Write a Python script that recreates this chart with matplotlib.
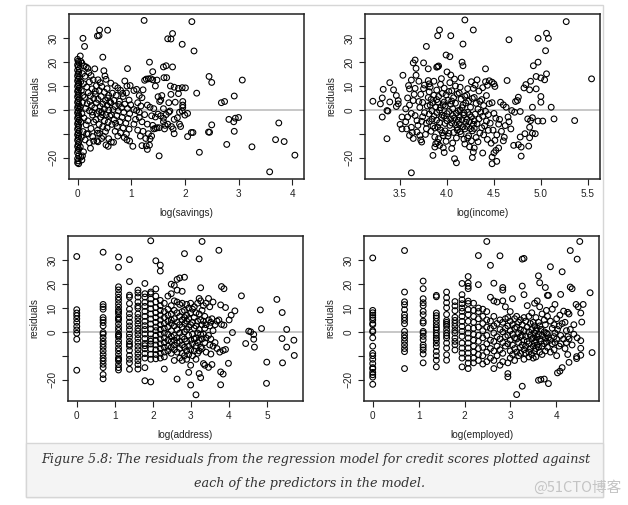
import numpy as np
import matplotlib.pyplot as plt
from matplotlib.patches import Rectangle

# residuals vs log(savings) as (x, residual)
savings = np.array([
    (0.00, 21.2), (0.01, 20.4), (0.02, 19.8), (0.00, 18.9), (0.01, 18.1), (0.03, 17.2), (0.00, 16.6),
    (0.02, 15.8), (0.01, 15.1), (0.00, 14.2), (0.03, 13.6), (0.01, 12.9), (0.00, 12.1), (0.02, 11.3),
    (0.01, 10.6), (0.00, 9.8), (0.03, 9.1), (0.01, 8.3), (0.00, 7.7), (0.02, 6.9), (0.01, 6.2),
    (0.00, 5.4), (0.03, 4.7), (0.01, 3.9), (0.00, 3.1), (0.02, 2.4), (0.01, 1.6), (0.00, 0.9),
    (0.03, 0.2), (0.01, -0.6), (0.00, -1.3), (0.02, -2.1), (0.01, -2.8), (0.00, -3.6), (0.03, -4.3),
    (0.01, -5.1), (0.00, -5.9), (0.02, -6.6), (0.01, -7.4), (0.00, -8.2), (0.03, -8.9), (0.01, -9.7),
    (0.00, -10.5), (0.02, -11.2), (0.01, -12.0), (0.00, -12.8), (0.02, -13.7), (0.01, -14.6),
    (0.00, -15.4), (0.02, -16.3), (0.01, -17.1), (0.00, -18.0), (0.02, -19.2), (0.00, -20.5),
    (0.01, -21.4), (0.00, -22.2), (0.02, -22.6),
    (0.05, 22.6), (0.06, 20.3), (0.08, 19.6), (0.10, 30.0), (0.13, 26.6), (0.06, -19.8), (0.08, -21.0),
    (0.09, -19.3), (0.11, -17.6), (0.05, -15.5),
    (0.12, 18.4), (0.16, 18.0), (0.19, 17.4), (0.21, 15.6), (0.09, 15.2), (0.14, 14.1), (0.25, 14.4),
    (0.29, 12.6), (0.22, 11.7), (0.11, 11.0), (0.17, 9.6), (0.27, 8.8), (0.07, 8.1), (0.20, 7.2),
    (0.24, 5.9), (0.13, 5.2), (0.30, 4.8), (0.09, 3.1), (0.18, 2.6), (0.26, 1.8), (0.15, 0.6),
    (0.22, -0.4), (0.08, -1.6), (0.28, -2.2), (0.12, -3.4), (0.19, -4.6), (0.30, -5.1), (0.16, -6.3),
    (0.25, -7.8), (0.10, -9.1), (0.17, -10.0), (0.20, -10.1), (0.28, -11.2), (0.14, -12.6),
    (0.22, -13.8), (0.30, -13.1), (0.24, -16.1), (0.06, -5.0), (0.07, -11.5), (0.05, 1.2),
    (0.06, 11.8), (0.10, 6.0), (0.27, -0.9), (0.23, 3.5),
    (0.37, 31.0), (0.40, 31.2), (0.41, 33.5), (0.56, 33.4), (0.47, 22.1), (0.32, 17.2), (0.49, 16.4),
    (0.51, 14.2), (0.53, 12.8), (0.38, 12.6), (0.42, 11.4), (0.35, 10.1), (0.45, 9.8), (0.55, 8.9),
    (0.40, 8.1), (0.50, 7.4), (0.33, 6.6), (0.58, 6.1), (0.44, 5.6), (0.38, 4.4), (0.52, 3.9),
    (0.60, 3.4), (0.35, 2.9), (0.47, 2.5), (0.55, 1.9), (0.42, 1.4), (0.32, 0.9), (0.50, 0.4),
    (0.58, -0.1), (0.40, -0.6), (0.45, -1.1), (0.36, -1.6), (0.53, -2.1), (0.60, -2.6), (0.43, -3.1),
    (0.34, -4.1), (0.50, -4.6), (0.57, -5.2), (0.40, -6.1), (0.47, -7.0), (0.55, -7.6), (0.37, -8.6),
    (0.52, -9.1), (0.37, -9.8), (0.41, -9.9), (0.48, -11.1), (0.58, -12.1), (0.36, -13.0),
    (0.38, -13.4), (0.45, -12.0), (0.53, -14.7), (0.57, -15.3), (0.33, 7.8), (0.46, -2.0), (0.56, 5.0),
    (0.63, -13.5), (0.67, -13.6), (0.62, 11.2), (0.70, 10.1), (0.75, 9.2), (0.88, 12.1), (0.92, 10.0),
    (0.98, 10.2), (0.93, 17.3), (0.91, 7.1), (0.80, 8.2), (0.65, 7.0), (0.72, 6.1), (0.85, 5.6),
    (0.96, 4.1), (0.68, 4.0), (0.78, 3.6), (0.62, 3.0), (0.88, 2.4), (0.99, 2.1), (0.70, 1.4),
    (0.82, 1.0), (0.93, 0.6), (0.66, 0.1), (0.76, -0.4), (0.86, -1.1), (0.97, -1.6), (0.63, -2.1),
    (0.73, -2.4), (0.83, -3.1), (0.94, -3.6), (0.68, -4.1), (0.79, -5.0), (0.90, -5.6), (0.64, -6.1),
    (0.74, -7.0), (0.85, -7.6), (0.96, -8.1), (0.70, -9.0), (0.80, -9.6), (0.91, -10.1), (0.75, -11.0),
    (0.87, -11.6), (0.92, -12.6), (0.97, -13.1), (1.03, -15.3), (0.77, 2.3), (0.84, 6.9), (0.71, -5.6),
    (1.05, 8.1), (1.10, 8.6), (1.15, 6.0), (1.20, 5.1), (1.22, 8.4), (1.25, 12.4), (1.28, 12.9),
    (1.32, 13.0), (1.36, 13.1), (1.40, 12.6), (1.45, 10.0), (1.48, 12.5), (1.12, 3.0), (1.18, 1.6),
    (1.30, 2.0), (1.35, 1.1), (1.42, 0.5), (1.05, 0.1), (1.15, -1.0), (1.25, -2.0), (1.38, -2.5),
    (1.45, -3.0), (1.08, -4.0), (1.20, -5.0), (1.30, -6.0), (1.40, -6.5), (1.48, -7.5), (1.12, -8.5),
    (1.22, -9.0), (1.32, -10.0), (1.42, -8.0), (1.17, -11.0), (1.27, -12.0), (1.35, -12.2),
    (1.38, -11.0), (1.20, -15.0), (1.28, -15.1), (1.30, -16.6), (1.34, -14.8), (1.15, -3.2),
    (1.05, -6.0), (1.50, 5.5), (1.55, 4.1), (1.53, 3.5), (1.50, -1.8), (1.55, -2.5), (1.60, -3.5),
    (1.52, -7.5), (1.45, -7.8), (1.60, -5.0), (1.24, 37.5), (1.34, 20.0), (1.40, 16.0), (1.57, 6.0),
    (1.52, -19.3), (1.10, -0.3),
    (1.60, 18.0), (1.65, 18.5), (1.77, 18.0), (1.61, 13.5), (1.66, 13.5), (1.73, 10.0), (1.80, 9.5),
    (1.88, 9.0), (1.95, 9.3), (2.01, 9.2), (1.68, 29.8), (1.74, 29.7), (1.77, 32.0), (1.95, 27.5),
    (2.13, 37.0), (2.17, 24.7), (2.22, 7.0), (2.45, 14.0), (2.50, 11.5), (3.07, 12.5), (2.68, 3.0),
    (2.74, 3.5), (2.92, 5.8), (2.82, -4.0), (2.91, -5.0), (2.94, -3.5), (3.00, -3.2), (2.92, -9.0),
    (2.78, -14.5), (3.25, -15.5), (3.75, -5.5), (3.69, -12.5), (3.85, -13.3), (4.05, -19.0),
    (3.58, -26.0), (2.50, -6.3), (2.44, -9.3), (2.46, -9.4), (2.27, -17.8), (2.05, -11.2),
    (2.12, -9.5), (2.15, -9.5), (2.05, -1.5), (1.96, 3.5), (1.96, 2.0), (1.96, 1.0), (1.95, -0.5),
    (2.00, -2.2), (1.88, 6.8), (1.74, 6.5), (1.82, 3.2), (1.86, -3.3), (1.80, -4.0), (1.90, -6.0),
    (1.75, -7.0), (1.78, -8.0), (1.80, -10.0), (1.60, 0.5), (1.65, -2.0), (1.70, 3.0), (1.72, -0.5),
    (1.68, -6.0), (1.62, -8.0), (1.90, -1.0), (1.92, -7.0), (1.63, -6.5), (1.70, -1.0),
])

# residuals vs log(income)
income = np.array([
    (3.21, 3.6), (3.29, 2.5), (3.31, 5.0), (3.32, 8.6), (3.31, -3.0), (3.36, -0.3), (3.37, -0.5),
    (3.36, -12.1), (3.39, 11.4), (3.39, 3.3), (3.43, 8.4), (3.46, 6.0), (3.48, 3.9), (3.48, 2.5),
    (3.46, 1.4), (3.53, 14.5), (3.52, -3.0), (3.50, -6.1), (3.52, -8.0), (3.56, 0.4), (3.58, -3.0),
    (3.59, 10.2), (3.60, 8.8), (3.62, 12.5), (3.62, -7.3), (3.60, -10.7), (3.62, -26.4), (3.64, 19.7),
    (3.66, 20.9), (3.67, 17.4), (3.64, 3.9), (3.66, -2.4), (3.68, -9.3), (3.71, -10.7), (3.72, -12.6),
    (3.73, -13.5), (3.75, 19.7), (3.78, 26.6), (3.80, 17.2), (3.80, 12.3), (3.81, 10.9), (3.85, -19.1),
    (3.87, -15.6), (3.88, -14.2), (3.89, 17.9), (3.90, 18.1), (3.91, 18.4), (3.90, 31.1), (3.92, 33.5),
    (3.92, -14.9), (3.96, -15.9), (3.97, -17.9), (3.99, 23.0), (4.03, 22.3), (4.04, 31.1),
    (4.08, -20.5), (4.10, -22.2), (4.17, 27.6), (4.19, 37.7), (4.28, 33.5), (4.16, 20.0), (4.17, 18.5),
    (4.27, -20.0), (4.28, -17.7), (4.29, -16.0), (4.38, -18.1), (4.41, 17.2), (4.48, -19.8),
    (4.48, -22.6), (4.53, -21.6), (4.52, -17.0), (4.48, 11.6), (4.50, 10.9), (4.51, 9.8), (4.66, 29.4),
    (4.64, 12.3), (4.71, -14.9), (4.76, -14.6), (4.79, -15.6), (4.87, -15.2), (4.79, -19.4),
    (4.78, -11.4), (4.83, -10.0), (4.88, -11.7), (4.91, -9.8), (4.94, -10.0), (4.88, -7.3),
    (4.89, -4.5), (4.86, -3.8), (4.91, -3.3), (4.97, -4.7), (5.02, -4.7), (5.14, -3.8), (5.36, -4.5),
    (5.54, 13.0), (5.11, 1.1), (4.91, 1.1), (5.00, 5.6), (5.00, 3.2), (4.95, 8.8), (4.88, 8.4),
    (4.89, 12.0), (4.84, 10.6), (4.82, 9.2), (4.92, 18.5), (4.97, 20.0), (4.95, 14.0), (5.00, 13.4),
    (5.04, 12.6), (5.06, 15.1), (5.05, 24.8), (4.97, 30.0), (5.06, 32.1), (5.08, 30.0), (5.27, 37.0),
    (4.75, 3.9), (4.73, 3.5), (4.76, 5.3), (4.78, -0.7), (4.72, -1.0), (4.69, -0.3),
    (3.72, 6.5), (3.74, 3.1), (3.76, -1.2), (3.73, -4.8), (3.78, -7.9), (3.75, 8.9), (3.79, 1.6),
    (3.77, -10.3), (3.80, 5.2), (3.74, -2.9), (3.78, -5.6), (3.71, 1.0), (3.76, 10.4),
    (3.81, 7.6), (3.83, 4.4), (3.82, 2.0), (3.84, -0.4), (3.86, -2.7), (3.81, -4.9), (3.85, -6.8),
    (3.83, -9.0), (3.87, -11.4), (3.82, 9.6), (3.86, 6.1), (3.88, 1.2), (3.84, -3.9), (3.87, -7.6),
    (3.85, 3.0), (3.81, -1.8), (3.86, 12.0),
    (3.89, 8.3), (3.91, 5.6), (3.90, 3.2), (3.93, 0.9), (3.89, -1.1), (3.94, -3.2), (3.92, -5.4),
    (3.90, -7.2), (3.95, -9.6), (3.91, -12.1), (3.93, 10.7), (3.95, 6.9), (3.89, 4.3), (3.96, 2.1),
    (3.92, -0.2), (3.95, -2.2), (3.89, -4.3), (3.93, -8.4), (3.96, -10.8), (3.90, -13.6), (3.94, 13.1),
    (3.97, 9.1), (3.99, 6.3), (4.01, 4.0), (3.98, 1.6), (4.02, -0.7), (3.97, -2.6), (4.00, -4.6),
    (4.03, -6.5), (3.98, -8.8), (4.01, -11.0), (4.03, 11.4), (3.99, -13.2), (4.02, 7.7), (3.97, 3.3),
    (4.04, 2.4), (4.00, -1.6), (4.04, -3.8), (3.98, -5.7), (4.02, -9.8), (4.04, 14.6), (4.00, 15.9),
    (4.05, 8.0), (4.07, 5.1), (4.09, 2.8), (4.06, 0.5), (4.10, -1.4), (4.08, -3.4), (4.05, -5.5),
    (4.11, -7.4), (4.07, -9.5), (4.10, -11.8), (4.06, -13.9), (4.09, 10.0), (4.11, 6.6), (4.05, 3.7),
    (4.12, -0.3), (4.06, -2.4), (4.09, -6.3), (4.12, -4.4), (4.08, 12.9), (4.11, -8.5), (4.05, -16.2),
    (4.13, 7.1), (4.15, 4.5), (4.17, 2.0), (4.14, -0.2), (4.18, -2.2), (4.16, -4.1), (4.13, -6.0),
    (4.19, -8.0), (4.15, -10.1), (4.18, -12.3), (4.14, 9.5), (4.19, 5.7), (4.16, 0.9), (4.13, -3.1),
    (4.20, -5.2), (4.17, -7.1), (4.14, -9.1), (4.19, -14.3), (4.15, 13.4), (4.18, -1.2), (4.20, 2.9),
    (4.21, 6.2), (4.23, 3.6), (4.25, 1.1), (4.22, -1.0), (4.26, -3.0), (4.24, -4.9), (4.21, -6.9),
    (4.27, -8.8), (4.23, -10.9), (4.26, -13.0), (4.22, 8.9), (4.27, 4.8), (4.24, -2.0), (4.21, -4.0),
    (4.28, -6.1), (4.25, -7.9), (4.22, -11.8), (4.26, 11.8), (4.28, 9.0), (4.24, -15.5),
    (4.29, 5.2), (4.31, 2.7), (4.33, 0.3), (4.30, -1.8), (4.34, -3.8), (4.32, -5.8), (4.29, -7.8),
    (4.35, -9.7), (4.31, -11.6), (4.34, 7.9), (4.30, 10.4), (4.33, -13.4), (4.35, 3.6), (4.36, -1.0),
    (4.32, 12.6), (4.29, -4.6),
    (4.37, 4.3), (4.39, 1.8), (4.41, -0.6), (4.38, -2.7), (4.42, -4.7), (4.40, -6.7), (4.44, -8.6),
    (4.39, -10.5), (4.43, -12.4), (4.42, 6.0), (4.45, 2.6), (4.38, 9.3), (4.44, -2.0), (4.46, -5.6),
    (4.37, -7.5), (4.41, 11.8), (4.45, 12.2), (4.43, 10.3),
    (4.48, 3.0), (4.50, -1.5), (4.52, -3.5), (4.55, -6.0), (4.57, 3.2), (4.60, 2.1), (4.63, 1.1),
    (4.49, -8.5), (4.53, -10.5), (4.51, -12.8), (4.56, -4.0), (4.58, -9.0), (4.62, -6.6),
    (4.65, -3.0), (4.47, -14.0), (4.55, -16.0), (4.50, -18.0), (4.61, -11.5), (4.68, -8.0),
    (4.66, -5.0), (4.60, -13.0),
    (3.56, -5.0), (3.58, 5.0), (3.60, 2.0), (3.62, -1.5), (3.65, 6.5), (3.68, -4.5), (3.70, 3.5),
    (3.63, -9.5), (3.66, 9.0), (3.69, -6.5), (3.57, -8.0), (3.64, -12.0), (3.70, 12.0), (3.67, 14.5),
])

# residuals vs address (years at address), grouped by value
address_resid = {
    1: [31.6, 9.3, 7.9, 6.8, 5.5, 4.0, 2.3, 0.8, -0.6, -3.1, -16.1],
    2: [33.4, 11.5, 10.5, 9.5, 6.0, 5.0, 3.9, 2.5, -0.3, -1.0, -2.5, -4.0, -5.2, -6.5, -8.0, -9.5,
        -11.0, -12.2, -13.6, -15.0, -17.9, -19.7],
    3: [31.4, 27.1, 18.9, 17.6, 16.0, 14.5, 13.3, 11.8, 10.4, 9.1, 7.6, 6.1, 4.9, 3.3, 1.8, 0.6, -0.9,
        -2.2, -3.8, -5.1, -6.7, -7.9, -9.4, -10.9, -12.1, -13.7, -15.0, -16.0, -1.5, 5.5, -11.5, 8.5],
    4: [30.3, 21.1, 15.4, 14.6, 11.9, 9.5, 7.6, 6.0, 4.1, 2.5, -0.9, -2.3, -4.0, -6.0, -7.8, -9.9,
        -11.5, -13.0, -15.7, 1.0, -5.2],
    5: [17.5, 16.3, 14.6, 12.5, 10.8, 9.9, 7.5, 6.0, 4.6, 3.2, 1.5, 0.3, -1.2, -2.8, -4.4, -6.0, -7.5,
        -9.1, -10.6, -12.1, -13.7, -15.6],
    6: [20.3, 16.0, 14.6, 12.4, 10.7, 8.6, 6.5, 4.4, 2.6, 1.0, -0.9, -2.8, -4.9, -7.1, -9.1, -11.0,
        -15.0, -20.5, -5.8],
    7: [38.2, 16.7, 16.0, 13.8, 11.8, 9.7, 7.5, 5.4, 3.3, 1.2, -0.9, -3.0, -5.1, -7.2, -9.4, -11.5,
        -21.0, -3.9],
    8: [29.8, 18.0, 15.0, 12.5, 10.2, 8.0, 6.0, 4.0, 2.0, 0.5, -1.5, -3.5, -5.5, -7.5, -9.5, -11.3],
    9: [28.0, 25.5, 13.2, 11.0, 9.0, 7.0, 5.0, 3.0, 1.0, -1.0, -3.0, -5.0, -7.0, -9.0, -11.0],
    10: [12.0, 8.5, 6.0, 3.5, 1.5, -0.5, -2.5, -4.5, -6.5, -8.5, -10.5, -15.6],
    11: [15.0, 9.5, 7.0, 4.5, 2.0, -1.0, -3.5, -6.0, -8.0],
    12: [20.0, 16.0, 11.0, 7.5, 5.0, 3.5, 0.5, -2.0, -4.0, -6.5, -9.0],
    13: [19.5, 13.0, 9.0, 5.5, 2.5, -1.5, -3.5, -5.5, -7.5, -12.0],
    14: [22.0, 17.5, 12.5, 8.0, 4.0, 1.0, -2.5, -4.5, -8.5, -19.8],
    15: [22.6, 11.5, 6.5, 3.0, -0.5, -4.0, -7.0, -11.0],
    16: [17.0, 12.0, 8.5, 5.0, 2.0, -2.0, -5.5, -9.0, -12.0],
    17: [32.8, 22.9, 9.0, 6.0, 3.5, 0.0, -3.0, -6.5, -10.0],
    18: [11.5, 7.0, 4.5, 1.0, -4.0, -8.0, -11.5],
    19: [10.0, 5.5, 2.0, -1.5, -6.0, -9.5, -17.0],
    20: [12.0, 8.0, 3.0, -3.5, -7.5, -14.0, -22.3],
    21: [9.5, 4.0, -1.0, -5.0, -10.0],
    22: [10.5, 6.0, 1.5, -3.0, -8.0],
    23: [8.0, 2.5, -2.5, -6.0, -11.5, -26.4],
    24: [12.0, 4.5, -0.5, -4.5, -9.0],
    25: [30.6, 14.0, 7.5, 1.0, -3.5, -8.0, -17.5],
    26: [18.5, 13.0, 5.0, -1.0, -6.5, -19.2],
    27: [37.9, 9.0, 3.0, -3.0, -7.0],
    28: [11.0, 4.5, -1.0, -13.3],
    29: [6.5, 1.5, -4.5, -14.0],
    30: [12.0, 3.0, -2.5, -8.5],
    32: [14.0, 5.0, -1.5, -14.9],
    33: [10.5, 2.5, -5.5],
    34: [4.0, -3.0, -9.3],
    35: [5.5, -13.7],
    36: [12.5, 0.5, -6.0],
    38: [3.0, -4.5],
    40: [4.5, -7.0],
    42: [34.2, 5.0],
    43: [-8.5],
    44: [11.3, -16.8, -22.2],
    45: [19.0, 3.1],
    47: [-7.8, -17.7],
    48: [18.1, 2.8],
    50: [10.2, -7.4],
    52: [-3.5],
    54: [-13.2],
    55: [5.0],
    58: [7.0],
    60: [-0.3],
    64: [8.8],
    76: [15.1],
    85: [-4.9],
    92: [0.3],
    97: [0.0],
    105: [-1.1, -3.1],
    107: [-6.4],
    125: [9.2],
    129: [1.4],
    147: [-21.6],
    148: [-12.7],
    193: [13.6],
    221: [-2.8],
    222: [8.1],
    224: [-13.0],
    250: [1.0, -6.4],
    302: [-3.5],
    305: [-9.9],
}

# residuals vs employed (years employed), grouped by value
employed_resid = {
    1: [31.0, 9.0, 8.0, 7.0, 6.0, 5.0, 3.5, 3.0, 0.5, 0.0, -2.5, -6.0, -9.0, -10.0, -11.5, -13.3,
        -15.0, -15.5, -17.0, -18.0, -19.0, -22.0],
    2: [34.1, 16.7, 12.6, 11.4, 9.3, 7.2, 4.8, 3.4, 0.2, -1.3, -2.6, -4.0, -5.5, -8.3, -15.4, 6.0, -7.0],
    3: [21.3, 18.1, 13.9, 12.2, 11.0, 8.6, 7.2, 3.7, 0.2, -0.5, -1.9, -3.3, -5.5, -7.6, -9.3, -13.0,
        4.5, -6.5],
    4: [15.3, 14.7, 7.9, 6.8, 5.8, 4.4, 3.0, 0.9, -0.5, -2.6, -3.3, -4.7, -6.1, -8.2, -10.0, -11.9,
        -14.7, 1.8, -1.5],
    5: [16.7, 14.3, 12.2, 10.1, 7.3, 4.8, 4.0, 2.3, 0.9, -0.5, -2.6, -4.7, -6.8, -9.6, -11.9, 3.2, -1.6],
    6: [12.7, 10.9, 8.9, 6.1, 4.8, 3.6, 2.3, 0.6, -0.5, -2.6, -4.0, -5.4, -7.6],
    7: [20.3, 15.6, 13.5, 11.8, 10.0, 8.6, 6.5, 4.4, 2.3, 0.2, -1.9, -4.7, -6.8, -8.9, -11.0, -14.7],
    8: [23.2, 20.5, 19.1, 18.1, 12.9, 11.9, 9.3, 7.2, 4.4, 1.6, -0.5, -2.6, -4.7, -6.8, -8.9, -11.0,
        -13.1, -15.4],
    9: [12.0, 9.0, 6.5, 4.0, 1.5, -1.0, -3.5, -6.0, -8.5, -11.0, -13.0],
    10: [32.0, 19.8, 10.0, 8.5, 5.5, 2.0, -1.5, -4.0, -7.0, -9.5, -12.0],
    11: [9.5, 6.5, 3.5, 0.5, -2.5, -6.5, -10.0, -13.5],
    12: [37.9, 8.5, 5.0, 2.0, -1.5, -5.0, -8.5, -12.5],
    13: [27.9, 14.5, 4.5, 1.5, -3.5, -7.0, -11.0],
    14: [20.4, 13.0, 6.5, 2.5, -0.5, -4.0, -8.0, -12.0, -15.4],
    15: [12.5, 3.5, -2.0, -6.0, -10.0],
    16: [31.9, 5.0, 1.0, -3.0, -7.5, -14.0],
    17: [18.6, 17.5, 13.0, 4.0, 0.0, -4.5, -9.0, -12.5],
    18: [10.5, 5.5, 1.5, -2.0, -6.0],
    19: [6.0, 2.5, -1.5, -5.0, -17.5, -18.9, -13.0],
    20: [8.5, 4.5, 0.5, -3.5, -8.0, -11.0],
    21: [13.9, 3.0, -1.0, -5.5, -9.5],
    22: [5.5, 1.5, -2.5, -7.0, -12.0],
    23: [6.5, 2.0, -3.0, -8.5, -26.3],
    24: [4.0, -0.5, -4.5, -10.0],
    25: [5.0, 1.0, -2.0, -6.5, -9.0],
    26: [30.5, 19.2, 3.0, -1.5, -5.5, -22.8],
    27: [30.8, 15.6, 6.0, 0.5, -3.5, -7.5, -11.5],
    28: [4.5, -2.0, -6.0, -9.0],
    29: [11.0, 2.0, -4.0],
    30: [6.5, 0.0, -5.0, -8.5, -10.5],
    31: [3.5, -1.5, -7.0],
    32: [8.0, 1.0, -3.0, -9.5],
    33: [4.0, -2.5, -6.0, -11.0],
    34: [12.0, 2.5, -0.5, -4.5, -8.0],
    35: [6.0, 0.5, -3.5, -7.0, -10.5],
    36: [13.0, 1.5, -2.0, -5.5],
    37: [23.5, 4.0, -1.0, -6.5, -20.3],
    38: [20.6, 10.5, 2.5, -3.0, -8.5],
    39: [1.0, -4.0, -20.0],
    40: [7.5, -1.5, -6.0, -9.5],
    42: [5.0, 0.0, -5.0, -19.8],
    43: [18.6, 3.0, -2.5, -8.0],
    44: [9.0, -0.5, -4.0],
    45: [15.3, 6.5, -1.0, -6.5],
    46: [15.3, -2.5, -21.7],
    48: [27.3, 4.5, -3.5, -8.5],
    50: [9.5, 1.5, -5.0],
    52: [3.0, -2.0, -7.5],
    53: [11.5, -0.5, -4.5],
    55: [5.5, -3.0, -10.0],
    56: [-17.2, 1.0],
    58: [2.5, -6.0],
    59: [-16.5, 7.0],
    60: [15.7, -1.5, -5.0],
    62: [25.2, -15.0, 3.5],
    64: [8.7, -3.0],
    66: [4.0, -7.0],
    68: [0.5, -4.5],
    70: [8.2, -2.0, -9.5],
    72: [7.5, -12.8, -3.0],
    74: [34.1, 18.8, 1.0],
    77: [18.1, -5.5],
    80: [3.0, -1.0],
    84: [11.5],
    85: [-10.4, -11.2],
    86: [30.5, -2.5],
    88: [10.5],
    91: [37.9],
    93: [7.9, -3.7, -6.9, -9.8],
    95: [4.1],
    98: [11.5],
    114: [16.4],
    119: [-8.7],
}


def flatten(groups):
    xs, ys = [], []
    for years, vals in groups.items():
        xs += [np.log(years)] * len(vals)
        ys += vals
    return np.array(xs), np.array(ys)


addr_x, addr_y = flatten(address_resid)
emp_x, emp_y = flatten(employed_resid)

W, H = 628, 505
fig = plt.figure(figsize=(W / 100, H / 100), dpi=100)
fig.patch.set_facecolor('white')

# page frame and caption box
fig.add_artist(Rectangle((26 / W, 1 - 497 / H), 577 / W, 492 / H, transform=fig.transFigure,
                         facecolor='white', edgecolor='#d6d6d6', lw=1.0, zorder=0))
fig.add_artist(Rectangle((26 / W, 1 - 497 / H), 577 / W, 54 / H, transform=fig.transFigure,
                         facecolor='#f4f4f4', edgecolor='#d6d6d6', lw=1.0, zorder=0))

panels = [
    ((69, 14), savings[:, 0], savings[:, 1], (-0.16, 4.22), [0, 1, 2, 3, 4], None, 'log(savings)'),
    ((365, 14), income[:, 0], income[:, 1], (3.126, 5.63), [3.5, 4.0, 4.5, 5.0, 5.5],
     ['3.5', '4.0', '4.5', '5.0', '5.5'], 'log(income)'),
    ((68, 236), addr_x, addr_y, (-0.23, 5.95), [0, 1, 2, 3, 4, 5], None, 'log(address)'),
    ((364, 236), emp_x, emp_y, (-0.19, 4.93), [0, 1, 2, 3, 4], None, 'log(employed)'),
]

tick_font = {'family': 'Liberation Sans', 'size': 7.2, 'color': '#222222'}

for (left, top), x, y, xlim, xticks, xlabels, xlabel in panels:
    ax = fig.add_axes([left / W, 1 - (top + 165) / H, 235 / W, 165 / H])
    ax.axhline(0, color='#bdbdbd', lw=1.2, zorder=1)
    ax.scatter(x, y, s=17, facecolors='none', edgecolors='black', linewidths=0.8, zorder=2)
    ax.set_xlim(*xlim)
    ax.set_ylim(-29, 40.2)
    ax.set_xticks(xticks)
    ax.set_xticklabels(xlabels if xlabels else [str(t) for t in xticks], fontdict=tick_font)
    ax.set_yticks([-20, -10, 0, 10, 20, 30])
    ax.set_yticklabels(['\u221220', '', '0', '10', '20', '30'], fontdict=tick_font,
                       rotation=90, va='center')
    ax.tick_params(length=4.5, width=0.8, color='#222222', pad=3)
    for sp in ax.spines.values():
        sp.set_linewidth(1.1)
        sp.set_color('#222222')
    ax.set_xlabel(xlabel, fontdict=tick_font)
    ax.xaxis.set_label_coords(0.5, -0.206)
    ax.xaxis.label.set_va('center')
    ax.set_ylabel('residuals', fontdict=tick_font)
    ax.yaxis.set_label_coords(-0.145, 0.5)
    ax.yaxis.label.set_va('center')

cap = {'family': 'DejaVu Serif', 'style': 'italic', 'size': 9.2, 'color': '#333333'}
fig.text(316 / W, 1 - 460 / H,
         'Figure 5.8: The residuals from the regression model for credit scores plotted against',
         ha='center', va='center', fontdict=cap)
fig.text(310 / W, 1 - 484 / H, 'each of the predictors in the model.',
         ha='center', va='center', fontdict=cap)

fig.text(621 / W, 1 - 488 / H, '@51CTO博客', ha='right', va='center', color='#c4c4c4',
         fontsize=10.5, family=['Noto Sans CJK SC', 'DejaVu Sans'])

fig.savefig('out.png', dpi=100)
